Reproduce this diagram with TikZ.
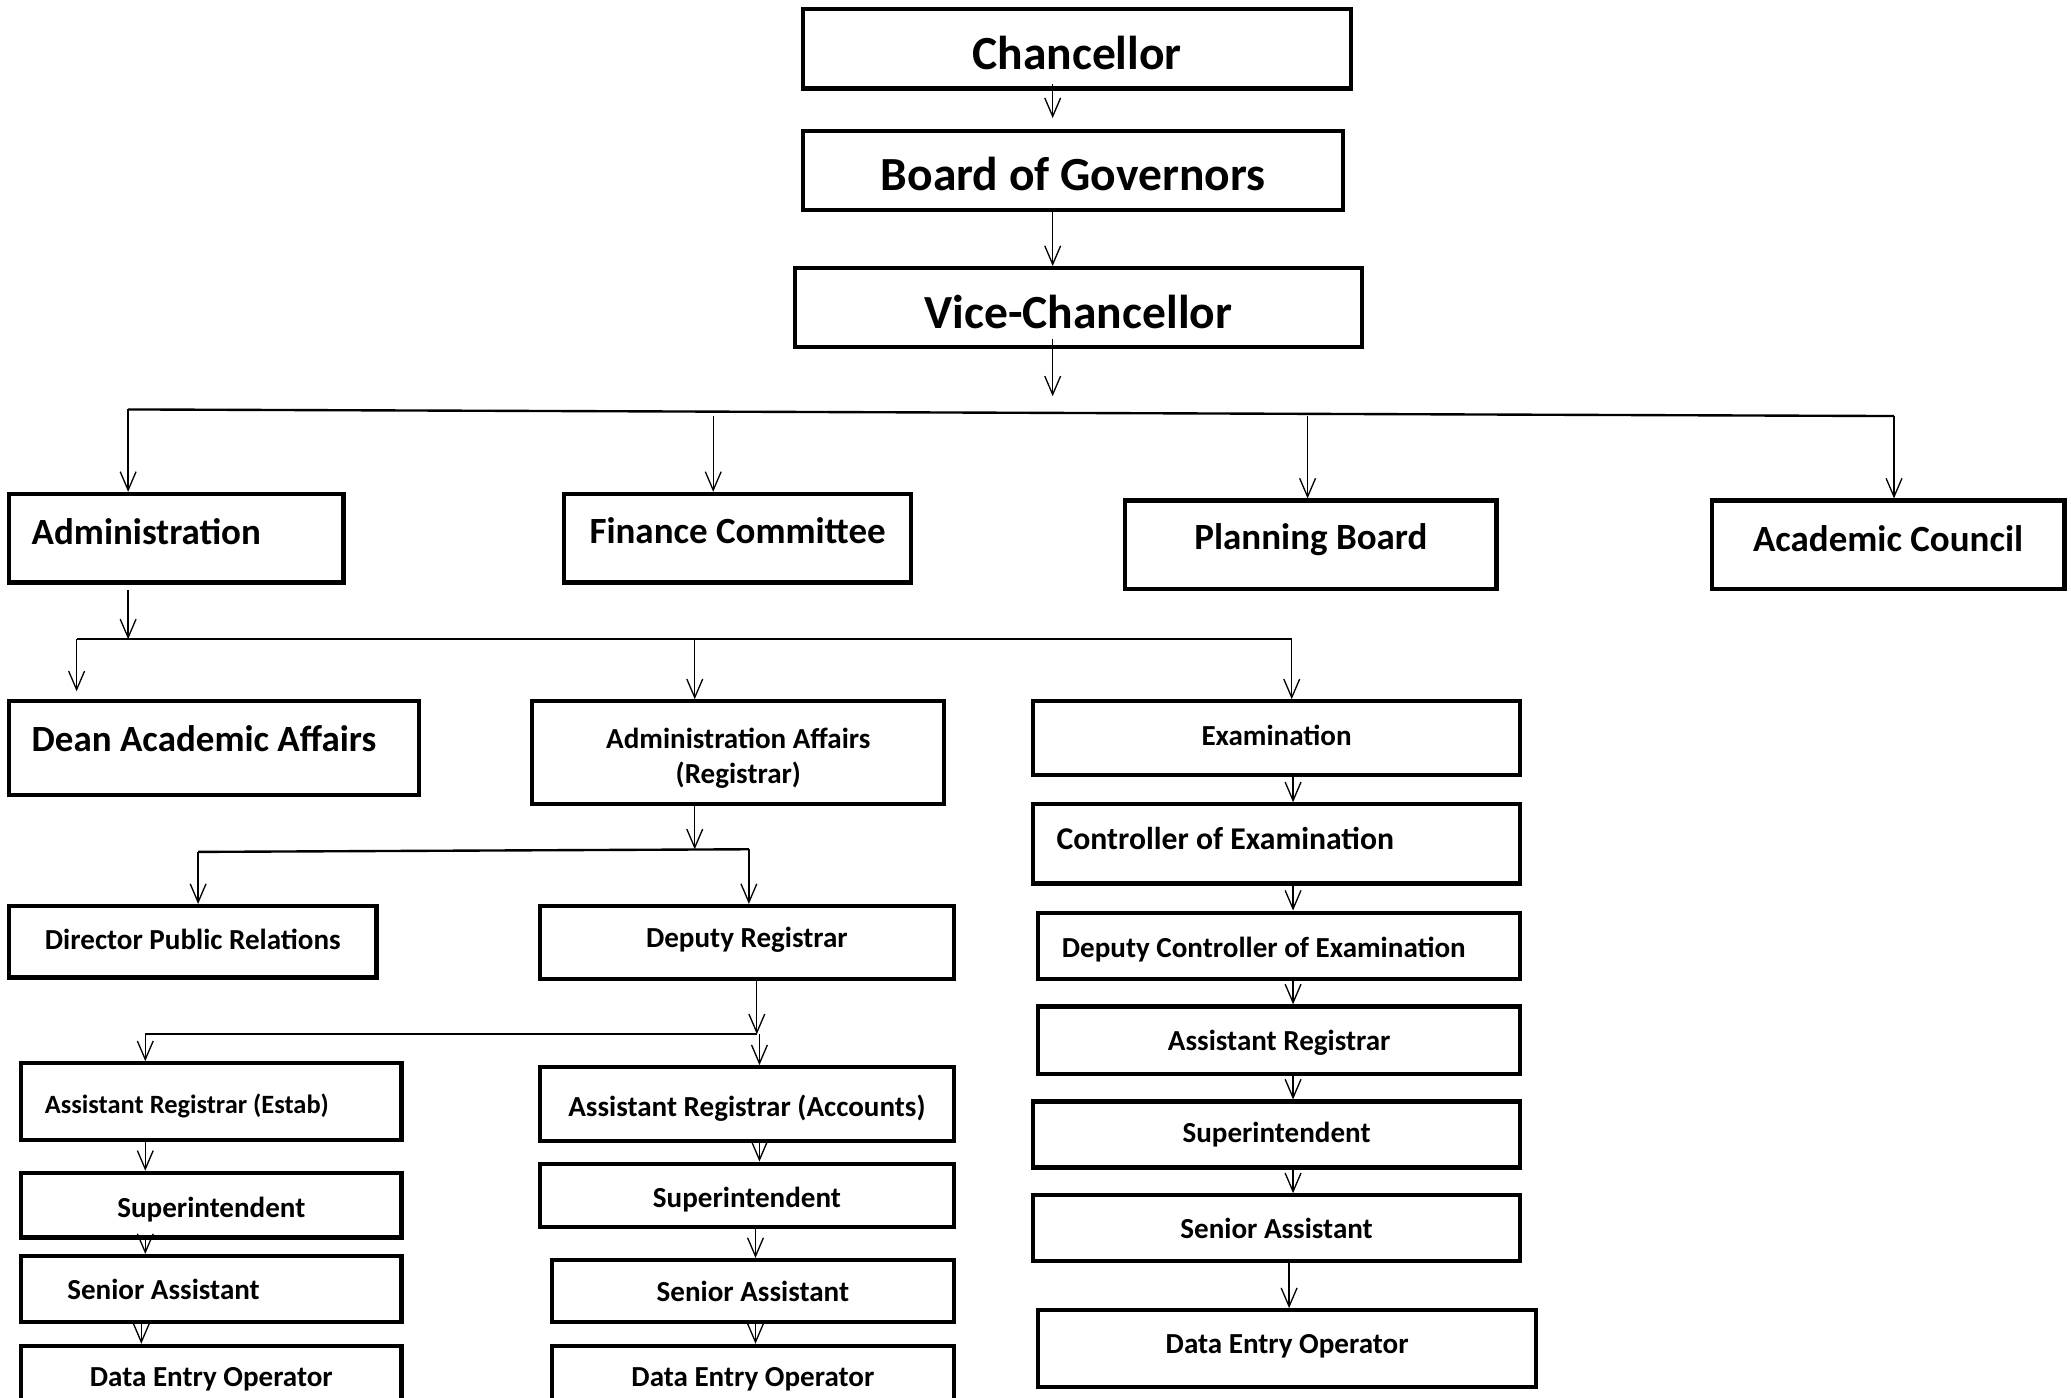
\documentclass[tikz,border=0pt]{standalone}
\usepackage{fontspec}
\setmainfont{Carlito}
\usetikzlibrary{arrows.meta}
% move a label up (+) or down (-) inside its box
\newcommand{\nudge}[2]{\raisebox{#1}[\height][\depth]{#2}}
\tikzset{
    orgbox/.style={
        draw,
        rectangle,
        line width=1.6pt,
        inner sep=0pt,
        align=center},
    lefttext/.style 2 args={
        align=flush left,
        inner xsep=#1,
        text width=#2},
    topfont/.style={font=\bfseries\fontsize{18}{22}\selectfont},
    midfont/.style={font=\bfseries\fontsize{14}{17}\selectfont},
    ctrlfont/.style={font=\bfseries\fontsize{12}{14}\selectfont},
    smallfont/.style={font=\bfseries\fontsize{11}{13.5}\selectfont},
    tinyfont/.style={font=\bfseries\fontsize{10}{12}\selectfont},
    bus/.style={line width=0.9pt},
    every edge/.style={
        draw,
        ->,>={Straight Barb[length=7pt,width=6pt]},
        line width=0.5pt}}

\begin{document}
\begin{tikzpicture}[x=0.5pt,y=-0.5pt]
        \useasboundingbox (0,0) rectangle (1568,1058);

        % top of the chart
        \node[orgbox,topfont,minimum width=207.5pt,minimum height=30pt] (chan) at (815.5,37) {\nudge{-1.5pt}{Chancellor}};
        \node[orgbox,topfont,minimum width=204.5pt,minimum height=30pt] (bog) at (812.5,129) {\nudge{-1.5pt}{Board of Governors}};
        \node[orgbox,topfont,minimum width=214.5pt,minimum height=30pt] (vc) at (816.5,233) {\nudge{-1.5pt}{Vice-Chancellor}};

        \node[orgbox,midfont,lefttext={8.5pt}{109.5pt},minimum height=33.5pt] (adm) at (133.5,407.5) {\nudge{2.5pt}{Administration}};
        \node[orgbox,midfont,minimum width=131.5pt,minimum height=33.5pt] (fin) at (558.5,407.5) {\nudge{3pt}{Finance Committee}};
        \node[orgbox,midfont,minimum width=140.5pt,minimum height=33.5pt] (plan) at (992.5,412.5) {\nudge{2pt}{Planning Board}};
        \node[orgbox,midfont,minimum width=133.5pt,minimum height=33.5pt] (acad) at (1429.5,412.5) {\nudge{2.5pt}{Academic Council}};

        \node[orgbox,midfont,lefttext={8.5pt}{138pt},minimum height=35.5pt] (dean) at (162,566.5) {\nudge{3.5pt}{Dean Academic Affairs}};
        \node[orgbox,smallfont,minimum width=156pt,minimum height=39pt] (aff) at (559,570) {\nudge{-2pt}{Administration Affairs}\\\nudge{-2pt}{(Registrar)}};

        % examination column
        \node[orgbox,smallfont,minimum width=184.5pt,minimum height=28pt] (exam) at (966.5,559) {\nudge{1pt}{Examination}};
        \node[orgbox,ctrlfont,lefttext={9pt}{166.5pt},minimum height=30pt] (ctrl) at (966.5,639) {\nudge{2pt}{Controller of Examination}};
        \node[orgbox,smallfont,lefttext={9pt}{164.5pt},minimum height=25pt] (dctrl) at (968.5,716) {\nudge{-1.5pt}{Deputy Controller of Examination}};
        \node[orgbox,smallfont,minimum width=182.5pt,minimum height=25.5pt] (areg) at (968.5,787.5) {\nudge{-1pt}{Assistant Registrar}};
        \node[orgbox,smallfont,minimum width=184.5pt,minimum height=25pt] (esup) at (966.5,859) {Superintendent};
        \node[orgbox,smallfont,minimum width=184.5pt,minimum height=25pt] (esen) at (966.5,930) {Senior Assistant};
        \node[orgbox,smallfont,minimum width=188.5pt,minimum height=29pt] (edeo) at (974.5,1021) {\nudge{1pt}{Data Entry Operator}};

        % registrar branch
        \node[orgbox,smallfont,minimum width=139pt,minimum height=27pt] (dpr) at (146,713) {\nudge{1pt}{Director Public Relations}};
        \node[orgbox,smallfont,minimum width=156.5pt,minimum height=27.5pt] (dreg) at (565.5,713.5) {\nudge{1pt}{Deputy Registrar}};

        \node[orgbox,tinyfont,lefttext={9pt}{126pt},minimum height=29pt] (estab) at (160,834) {\nudge{-1.5pt}{Assistant Registrar (Estab)}};
        \node[orgbox,smallfont,minimum width=144pt,minimum height=24.5pt] (lsup) at (160,912.5) {\nudge{-1.5pt}{Superintendent}};
        \node[orgbox,smallfont,lefttext={17.5pt}{109pt},minimum height=25pt] (lsen) at (160,976) {Senior Assistant};
        \node[orgbox,smallfont,minimum width=144pt,minimum height=25pt] (ldeo) at (160,1044) {Data Entry Operator};

        \node[orgbox,smallfont,minimum width=156.5pt,minimum height=28pt] (acc) at (565.5,836) {\nudge{-1.5pt}{Assistant Registrar (Accounts)}};
        \node[orgbox,smallfont,minimum width=156.5pt,minimum height=24pt] (msup) at (565.5,905) {\nudge{-1.5pt}{Superintendent}};
        \node[orgbox,smallfont,minimum width=152pt,minimum height=23.5pt] (msen) at (570,977.5) {Senior Assistant};
        \node[orgbox,smallfont,minimum width=152pt,minimum height=25pt] (mdeo) at (570,1044) {Data Entry Operator};

        % bus lines
        \coordinate (spine) at (797,0);
        \coordinate (vcend) at (797,300);
        \coordinate (b1a) at (97,310);
        \coordinate (b1f) at (540,315);
        \coordinate (b1p) at (990,315);
        \coordinate (b1c) at (1434,315);
        \coordinate (b2a) at (58,484);
        \coordinate (b2m) at (97,484);
        \coordinate (b2r) at (526,484);
        \coordinate (b2e) at (978,484);
        \coordinate (b3d) at (150,645);
        \coordinate (b3m) at (526,643);
        \coordinate (b3r) at (567,643);
        \coordinate (b4e) at (110,783);
        \coordinate (b4m) at (573,783);
        \coordinate (b4a) at (575,783);
        \coordinate (excol) at (979,0);

        \draw ([yshift=2.5pt]chan.south -| spine) edge[shorten >=4pt] (bog.north -| spine);
        \draw (bog.south -| spine) edge (vc.north -| spine);
        \draw ([yshift=4pt]vc.south -| spine) edge (vcend);

        \draw[bus] (b1a) -- (b1c);
        \draw (b1a) edge (adm.north -| b1a);
        \draw (b1f) edge (fin.north -| b1f);
        \draw (b1p) edge (plan.north -| b1p);
        \draw (b1c) edge (acad.north -| b1c);

        \draw (adm.south -| b2m) edge[shorten <=2pt] (b2m);
        \draw[bus] (b2a) -- (b2e);
        \draw (b2a) edge[shorten >=3pt] (dean.north -| b2a);
        \draw (b2r) edge (aff.north -| b2r);
        \draw (b2e) edge (exam.north -| b2e);

        \draw (aff.south -| b3m) edge (b3m);
        \draw[bus] (b3d) -- (b3r);
        \draw (b3d) edge (dpr.north -| b3d);
        \draw (b3r) edge (dreg.north -| b3r);

        \draw (dreg.south -| b4m) edge (b4m);
        \draw[bus] (b4e) -- (b4m);
        \draw (b4e) edge (estab.north -| b4e);
        \draw (b4a) edge (acc.north -| b4a);

        % chains
        \draw (exam.south -| excol) edge (ctrl.north -| excol);
        \draw (ctrl.south -| excol) edge (dctrl.north -| excol);
        \draw (dctrl.south -| excol) edge (areg.north -| excol);
        \draw (areg.south -| excol) edge (esup.north -| excol);
        \draw (esup.south -| excol) edge (esen.north -| excol);
        \draw ([xshift=-1.5pt]esen.south -| excol) edge ([xshift=-1.5pt]edeo.north -| excol);

        \draw (estab.south -| b4e) edge (lsup.north -| b4e);
        \draw (lsup.south -| b4e) edge (lsen.north -| b4e);
        \draw ([xshift=-1.5pt]lsen.south -| b4e) edge ([xshift=-1.5pt]ldeo.north -| b4e);

        \draw (acc.south -| b4a) edge (msup.north -| b4a);
        \draw ([xshift=-1.5pt]msup.south -| b4a) edge ([xshift=-1.5pt]msen.north -| b4a);
        \draw ([xshift=-1.5pt]msen.south -| b4a) edge ([xshift=-1.5pt]mdeo.north -| b4a);
    \end{tikzpicture}
\end{document}
